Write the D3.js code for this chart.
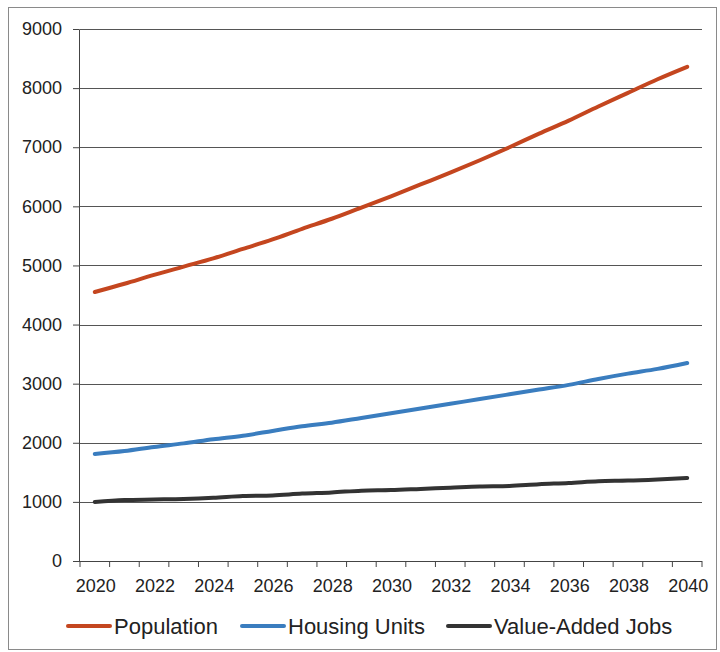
<!DOCTYPE html>
<html>
<head>
<meta charset="utf-8">
<script src="https://cdn.jsdelivr.net/npm/d3@7"></script>
<style>
  html, body { margin: 0; padding: 0; background: #fff; }
  svg { display: block; font-family: "Liberation Sans", Arial, sans-serif; }
</style>
</head>
<body>
<svg id="chart" width="720" height="652"></svg>
<script>
const years = d3.range(2020, 2041);
const yTicks = [0, 1000, 2000, 3000, 4000, 5000, 6000, 7000, 8000, 9000];
const xTickLabels = [2020, 2022, 2024, 2026, 2028, 2030, 2032, 2034, 2036, 2038, 2040];
const seriesNames = ["Population", "Housing Units", "Value-Added Jobs"];
const population = [4550, 4690, 4840, 4980, 5120, 5280, 5440, 5620, 5790, 5980, 6170, 6370, 6570, 6780, 7000, 7230, 7450, 7690, 7920, 8150, 8360];
const housing = [1810, 1860, 1930, 1990, 2060, 2120, 2200, 2280, 2340, 2420, 2500, 2580, 2660, 2740, 2820, 2900, 2980, 3080, 3170, 3250, 3350];
const jobs = [1000, 1030, 1040, 1050, 1070, 1100, 1110, 1140, 1160, 1190, 1200, 1220, 1240, 1260, 1270, 1300, 1320, 1350, 1360, 1380, 1405];
const colors = ["#c4461f", "#3a7dbf", "#333333"];

(function () {
const series = [population, housing, jobs];
const svg = d3.select("#chart");

// outer frame
svg.append("rect").attr("x", 8.5).attr("y", 7.5).attr("width", 708).attr("height", 642)
  .attr("fill", "none").attr("stroke", "#8a8a8a").attr("stroke-width", 1);

const pLeft = 80, pRight = 702, pTop = 29, pBottom = 561;
const x = d3.scaleBand().domain(years).range([pLeft, pRight]).paddingInner(0).paddingOuter(0);
const y = d3.scaleLinear().domain([0, 9000]).range([pBottom, pTop]);

// y axis ticks
const yAxis = d3.axisLeft(y).tickValues(yTicks).tickSize(6).tickPadding(11).tickFormat(d3.format("d"));
const gy = svg.append("g").attr("transform", `translate(${pLeft - 1},0)`).call(yAxis);
gy.select(".domain").attr("stroke", "#444");
gy.selectAll(".tick line").attr("stroke", "#444");
gy.selectAll(".tick text").attr("font-size", 18).attr("fill", "#222").attr("font-family", "Liberation Sans, Arial, sans-serif");

// gridlines
svg.append("g").selectAll("line").data(yTicks.filter(d => d > 0)).join("line")
  .attr("x1", pLeft).attr("x2", pRight)
  .attr("y1", d => Math.round(y(d)) + 0.5).attr("y2", d => Math.round(y(d)) + 0.5)
  .attr("stroke", "#555").attr("stroke-width", 1.2);

// x axis
const xTickPositions = years.map(d => x(d)).concat([pRight]);
const gx = svg.append("g");
gx.append("line").attr("x1", pLeft - 1).attr("x2", pRight).attr("y1", pBottom + 0.5).attr("y2", pBottom + 0.5)
  .attr("stroke", "#444").attr("stroke-width", 1.2);
gx.selectAll("line.tk").data(xTickPositions).join("line").attr("class", "tk")
  .attr("x1", d => d).attr("x2", d => d).attr("y1", pBottom).attr("y2", pBottom + 6)
  .attr("stroke", "#444");
gx.selectAll("text").data(xTickLabels).join("text")
  .attr("x", d => x(d) + x.bandwidth() / 2 + 1)
  .attr("y", pBottom + 31)
  .attr("text-anchor", "middle")
  .attr("font-size", 18).attr("fill", "#222")
  .text(d => d);

// lines
const line = d3.line()
  .x((d, i) => x(years[i]) + x.bandwidth() / 2)
  .y(d => y(d))
  .curve(d3.curveMonotoneX);

svg.append("g").selectAll("path").data(series).join("path")
  .attr("d", d => line(d))
  .attr("fill", "none")
  .attr("stroke", (d, i) => colors[i])
  .attr("stroke-width", 4)
  .attr("stroke-linecap", "round")
  .attr("stroke-linejoin", "round");

// legend
const legendX = [68, 242, 448];
const lg = svg.append("g").selectAll("g").data(seriesNames).join("g")
  .attr("transform", (d, i) => `translate(${legendX[i]},626)`);
lg.append("line").attr("x1", 0).attr("x2", 42).attr("y1", 0).attr("y2", 0)
  .attr("stroke", (d, i) => colors[i]).attr("stroke-width", 4).attr("stroke-linecap", "round");
lg.append("text").attr("x", 46).attr("y", 8).attr("font-size", 22).attr("fill", "#222").text(d => d);
})();
</script>
</body>
</html>
